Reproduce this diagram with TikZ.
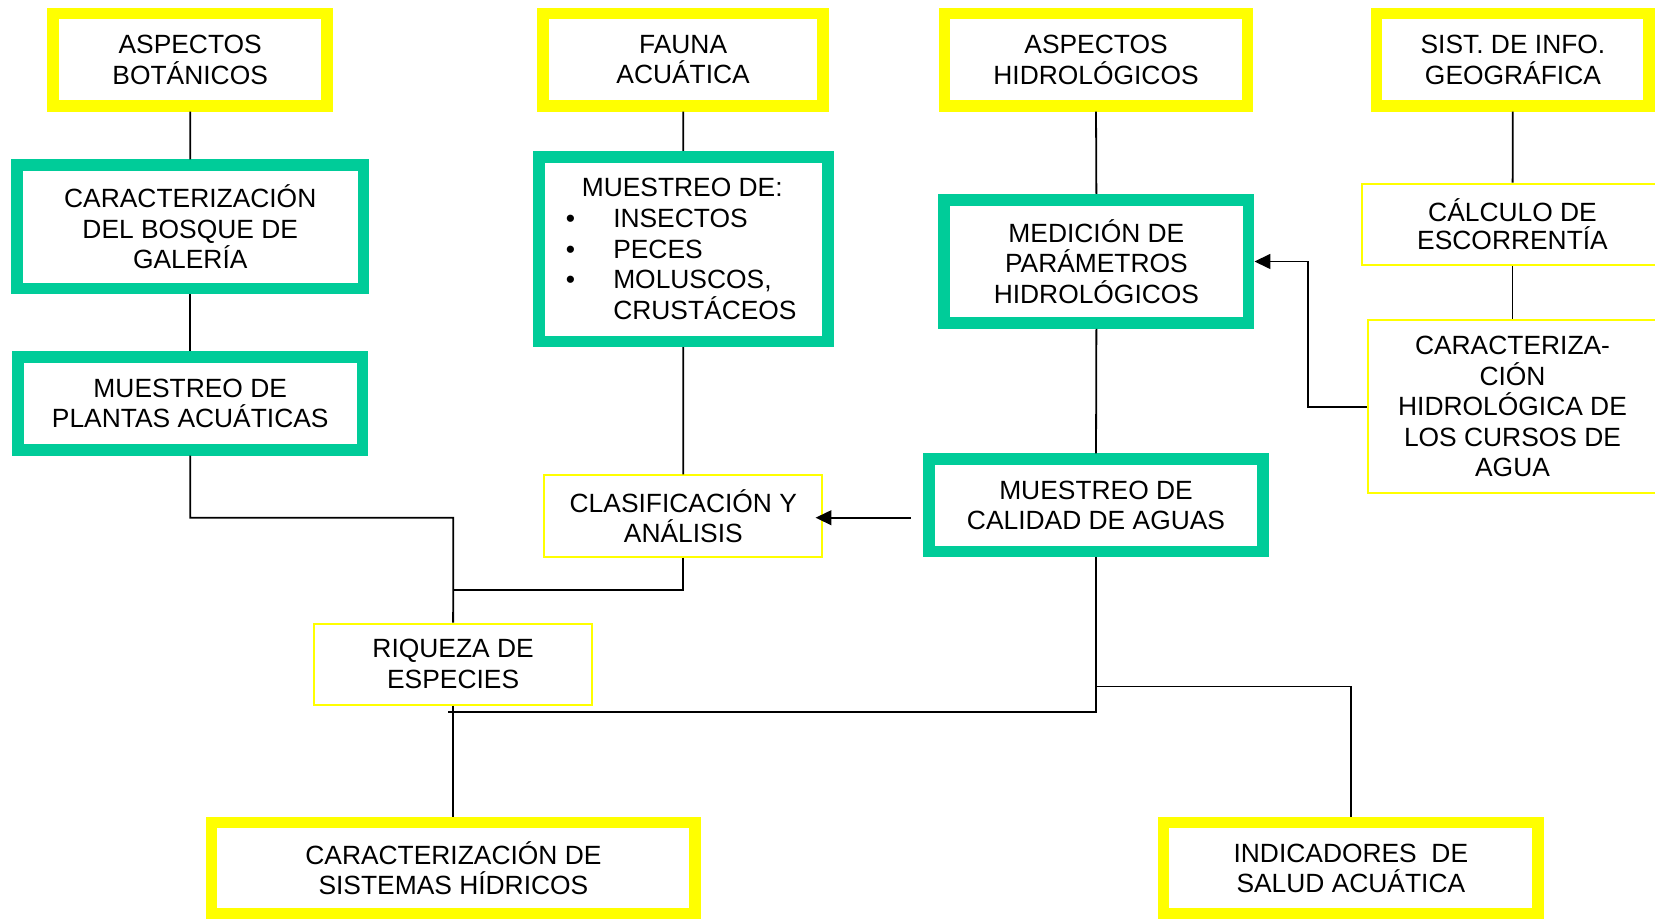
\documentclass[tikz,border=0pt]{standalone}
\usepackage{fontspec}
\setmainfont{Liberation Sans}
\usetikzlibrary{arrows.meta}
\definecolor{yel}{HTML}{FFFF00}
\definecolor{grn}{HTML}{00CC99}
\begin{document}
\begin{tikzpicture}[x=0.5pt,y=-0.5pt,
 box/.style={draw, align=center, inner sep=0pt, fill=white, font=\fontsize{12.5pt}{14.5pt}\selectfont},
 ythick/.style={box, draw=yel, line width=5.5pt},
 gthick/.style={box, draw=grn, line width=5.5pt},
 ythin/.style={box, draw=yel, line width=1pt},
 conn/.style={draw=black, line width=0.85pt},
 arr/.style={conn, -{Triangle[length=7.5pt,width=7pt]}}
]
\useasboundingbox (0,0) rectangle (1568,870);
\clip (0,0) rectangle (1568,870);
\fill[white] (0,0) rectangle (1568,870);

% top row
\node[ythick, minimum width=129.75pt, minimum height=43.85pt] (AB) at (180.2,56.5) {ASPECTOS\\BOTÁNICOS};
\node[ythick, minimum width=132.7pt, minimum height=43.85pt] (FA) at (647.2,56.5) {FAUNA\\ACUÁTICA};
\node[ythick, minimum width=143.65pt, minimum height=43.85pt] (AH) at (1038.4,56.5) {ASPECTOS\\HIDROLÓGICOS};
\node[ythick, minimum width=129.15pt, minimum height=43.85pt] (SIG) at (1433.4,56.5) {SIST. DE INFO.\\GEOGRÁFICA};

% green boxes
\node[gthick, minimum width=164.25pt, minimum height=58.5pt] (CB) at (180.25,215) {CARACTERIZACIÓN\\DEL BOSQUE DE\\GALERÍA};
\node[gthick, minimum width=163.25pt, minimum height=44.05pt] (MP) at (180.25,382.2) {MUESTREO DE\\PLANTAS ACUÁTICAS};
\node[gthick, minimum width=136.95pt, minimum height=87.5pt, align=left] (MD) at (647.35,236)
 {\hspace*{8pt}MUESTREO DE:\\
  \makebox[22.9pt][l]{\hspace*{0.5pt}•}INSECTOS\\
  \makebox[22.9pt][l]{\hspace*{0.5pt}•}PECES\\
  \makebox[22.9pt][l]{\hspace*{0.5pt}•}MOLUSCOS,\\
  \hspace*{22.9pt}CRUSTÁCEOS\hspace*{2.4pt}};
\node[gthick, minimum width=144.25pt, minimum height=58.45pt] (ME) at (1038.75,247.75) {MEDICIÓN DE\\PARÁMETROS\\HIDROLÓGICOS};
\node[gthick, minimum width=158.4pt, minimum height=43.75pt] (MC) at (1038.4,478.75) {MUESTREO DE\\CALIDAD DE AGUAS};

% bottom row
\node[ythick, minimum width=229.1pt, minimum height=43.45pt] (CS) at (429.6,822.65) {CARACTERIZACIÓN DE\\SISTEMAS HÍDRICOS};
\node[ythick, minimum width=177.35pt, minimum height=43.45pt] (IS) at (1279.85,822.65) {INDICADORES\ \ DE\\SALUD ACUÁTICA};

% thin yellow boxes
\node[ythin, minimum width=142.3pt, minimum height=38.5pt, font=\fontsize{12.5pt}{13.6pt}\selectfont] (CE) at (1433,212.5) {CÁLCULO DE\\ESCORRENTÍA};
\node[ythin, minimum width=137pt, minimum height=81.75pt] (CH) at (1433,385.25) {CARACTERIZA-\\CIÓN\\HIDROLÓGICA DE\\LOS CURSOS DE\\AGUA};
\node[ythin, minimum width=131.7pt, minimum height=38.5pt] (CL) at (647.4,488.9) {CLASIFICACIÓN Y\\ANÁLISIS};
\node[ythin, minimum width=131.5pt, minimum height=38.3pt] (RQ) at (429.3,629.3) {RIQUEZA DE\\ESPECIES};

% junction coordinates
\coordinate (j1) at (429.5,490.5);
\coordinate (j2) at (429.5,559);
\coordinate (j3) at (424.8,674.8);
\coordinate (j4) at (1038.4,650.5);
\coordinate (a2) at (863,490.5);

% connectors
\draw[conn] (AB) -- (CB);
\draw[conn] (CB) -- (MP);
\draw[conn] (FA) -- (MD);
\draw[conn] (MD) -- (CL);
\draw[conn] (AH.south) -- (ME.north);
\draw[conn] (ME.south) -- (MC.north);
\draw[conn] (SIG) -- (CE);
\draw[conn] (CE) -- (CH);
\draw[conn] (MP.south) |- (j1) -- (RQ.north);
\draw[conn] (CL.south) |- (j2);
\draw[conn] (RQ.south) -- (RQ.south |- CS.north);
\draw[conn] (j3) -| (MC.south);
\draw[conn] (j4) -| (IS.north);
\draw[arr] (CH.west) -- ++(-56,0) |- (ME.east);
\draw[arr, shorten >=-3.7pt] (a2) -- (a2 -| CL.east);
\end{tikzpicture}
\end{document}
